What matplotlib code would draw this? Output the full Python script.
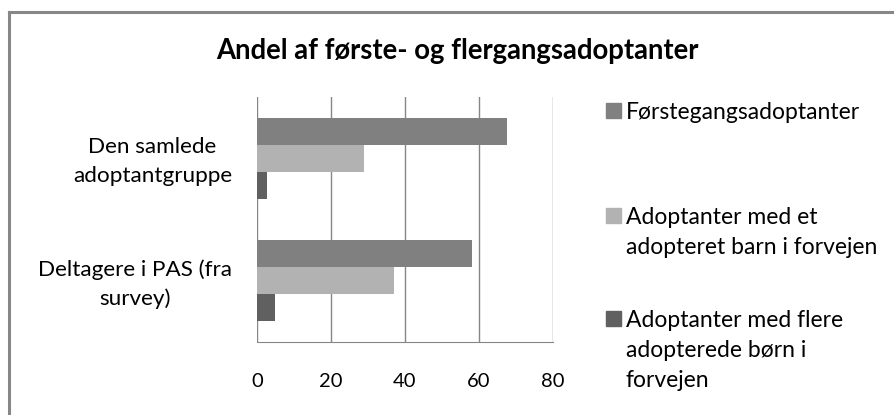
import matplotlib
matplotlib.use("Agg")
import matplotlib.pyplot as plt
import matplotlib.transforms as mtransforms
from matplotlib.lines import Line2D
from matplotlib.patches import Rectangle

categories = ["Den samlede\nadoptantgruppe", "Deltagere i PAS (fra\nsurvey)"]
series = ["Førstegangsadoptanter",
          "Adoptanter med et\nadopteret barn i forvejen",
          "Adoptanter med flere\nadopterede børn i\nforvejen"]
values = [[67.5, 58.0],   # førstegangs
          [29.0, 37.0],   # med et barn
          [2.8, 5.0]]     # med flere børn
colors = ["#808080", "#b2b2b2", "#606060"]
xticks = [0, 20, 40, 60, 80]

plt.rcParams['font.family'] = ['Lato', 'DejaVu Sans']
W, H = 895, 415
fig = plt.figure(figsize=(W / 100, H / 100), dpi=100)

def fx(px):
    return px / W

def fy(py):
    return 1 - py / H

ax = fig.add_axes([fx(257), fy(342), fx(553) - fx(257), fy(97) - fy(342)])

h = 0.221
for i, (name, vals, col) in enumerate(zip(series, values, colors)):
    pos = [c + (i - 1) * h for c in range(len(categories))]
    ax.barh(pos, vals, height=h, color=col, label=name)

ax.set_xlim(0, 80)
ax.set_ylim(len(categories) - 0.5, -0.5)
ax.set_xticks(xticks)
ax.set_yticks(range(len(categories)))
ax.set_yticklabels(categories, multialignment='center', fontsize=16.2, linespacing=1.55)
ax.tick_params(axis='y', length=0, pad=18)
ax.tick_params(axis='x', length=0, pad=22, labelsize=14.5)
# nudge category labels up a little
shift = mtransforms.ScaledTranslation(0, 0.03, fig.dpi_scale_trans)
for lab in ax.get_yticklabels():
    lab.set_transform(lab.get_transform() + shift)
ax.xaxis.grid(True, color="#868686", linewidth=1)
ax.set_axisbelow(True)
for s in ['top', 'left', 'right']:
    ax.spines[s].set_visible(False)
ax.spines['bottom'].set_color("#868686")

# title
fig.text(fx(457), fy(58.5), "Andel af første- og flergangsadoptanter",
         ha='center', va='baseline', fontsize=19.8, fontweight='bold')

# legend drawn by hand, Excel style (entries spread evenly down the right side)
leg_top = [102, 207, 310]
for name, col, y in zip(series, colors, leg_top):
    fig.patches.append(Rectangle((fx(606), fy(y + 16)), fx(15), 15 / H,
                                 transform=fig.transFigure, color=col))
    fig.text(fx(626), fy(y), name, ha='left', va='top',
             fontsize=16.5, linespacing=1.52)

# chart frame
fig.add_artist(Line2D([fx(9), fx(9)], [0, fy(12)], color="#878787", lw=2.2,
                      transform=fig.transFigure))
fig.add_artist(Line2D([fx(9), 1], [fy(12), fy(12)], color="#878787", lw=2.2,
                      transform=fig.transFigure))

plt.savefig("out.png", dpi=100)
